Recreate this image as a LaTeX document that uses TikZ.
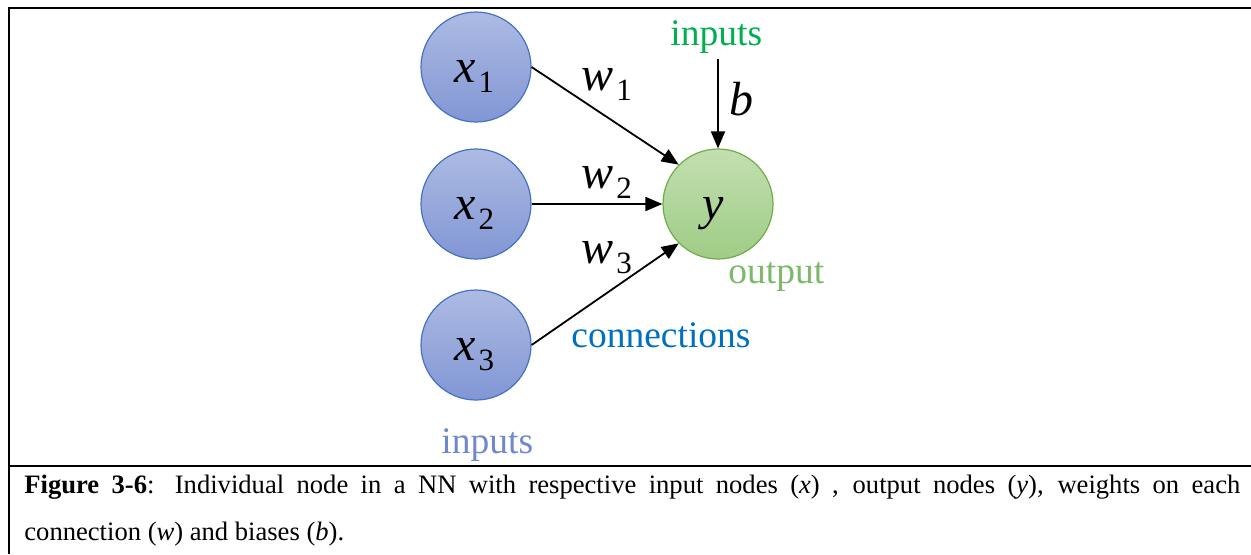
\documentclass[tikz,border=0pt]{standalone}
\usepackage{fontspec}
\setmainfont{Liberation Serif}
\usetikzlibrary{arrows.meta}

\definecolor{inborder}{HTML}{4472C4}
\definecolor{intop}{HTML}{ADBBE3}
\definecolor{inbot}{HTML}{8196D4}
\definecolor{outborder}{HTML}{70AD47}
\definecolor{outtop}{HTML}{C2DFB0}
\definecolor{outbot}{HTML}{9FCC86}
\definecolor{biasgreen}{HTML}{00B050}
\definecolor{outgreen}{HTML}{7DB96A}
\definecolor{connblue}{HTML}{0070C0}
\definecolor{inblue}{HTML}{7089CE}

% subscript digit set upright, lowered below the baseline
\newcommand\subdig[1]{\kern1.5pt\raisebox{-5pt}{\fontsize{15.5}{17}\selectfont\upshape #1}}

\begin{document}
\begin{tikzpicture}[x=0.5pt,y=-0.5pt,
  neuron/.style={circle, minimum size=55pt, inner sep=0pt, line width=0.6pt},
  innode/.style={neuron, draw=inborder, top color=intop, bottom color=inbot},
  outnode/.style={neuron, draw=outborder, top color=outtop, bottom color=outbot},
  link/.style={line width=0.9pt, -{Triangle[length=8.5pt,width=7pt]}},
  word/.style={inner sep=0pt, anchor=base west, font=\fontsize{18.75}{22}\selectfont},
  sym/.style={inner sep=0pt, anchor=base west, font=\fontsize{24}{26}\selectfont\itshape},
  capt/.style={inner sep=0pt, anchor=base west, font=\fontsize{13.3}{23.5}\selectfont},
  frame/.style={line width=1pt}]
\useasboundingbox (0,0) rectangle (1251,554);
\fill[white] (0,0) rectangle (1251,554);

% outer frame and caption separator
\draw[frame] (9,554) -- (9,8) -- (1251,8);
\draw[frame] (9,466) -- (1251,466);

% neurons
\node[innode] (x1) at (476,67) {};
\node[innode] (x2) at (476,204) {};
\node[innode] (x3) at (476,345) {};
\node[outnode] (y) at (718,204) {};

\node[sym] (x1l) at (454,82) {x\subdig{1}};
\node[sym] (x2l) at (454,219) {x\subdig{2}};
\node[sym] (x3l) at (454,360) {x\subdig{3}};
\node[sym] (yl) at (702,219) {y};

% weighted connections
\draw[link] (x1.east) -- (y.135);
\draw[link] (x2.east) -- (y.west);
\draw[link] (x3.east) -- (y.225);

\node[sym] (w1) at (581,90) {w\subdig{1}};
\node[sym] (w2) at (581,188) {w\subdig{2}};
\node[sym] (w3) at (581,263) {w\subdig{3}};

% bias input
\node[word, text=biasgreen] (bin) at (670,45) {inputs};
\coordinate (bs) at (718,59);
\draw[link] (bs) -- (y.north);
\node[sym] (b) at (729,115) {b};

% group labels
\node[word, text=outgreen] (outl) at (728,283) {output};
\node[word, text=connblue] (connl) at (571,347) {connections};
\node[word, text=inblue] (inl) at (441,453) {inputs};

% caption
\node[capt] (cap1) at (24,493) {\makebox[608pt][s]{\textbf{Figure 3-6}: Individual node in a NN with respective input nodes (\textit{x}) , output nodes (\textit{y}), weights on each}};
\node[capt] (cap2) at (24,540) {connection (\textit{w}) and biases (\textit{b}).};
\end{tikzpicture}
\end{document}
